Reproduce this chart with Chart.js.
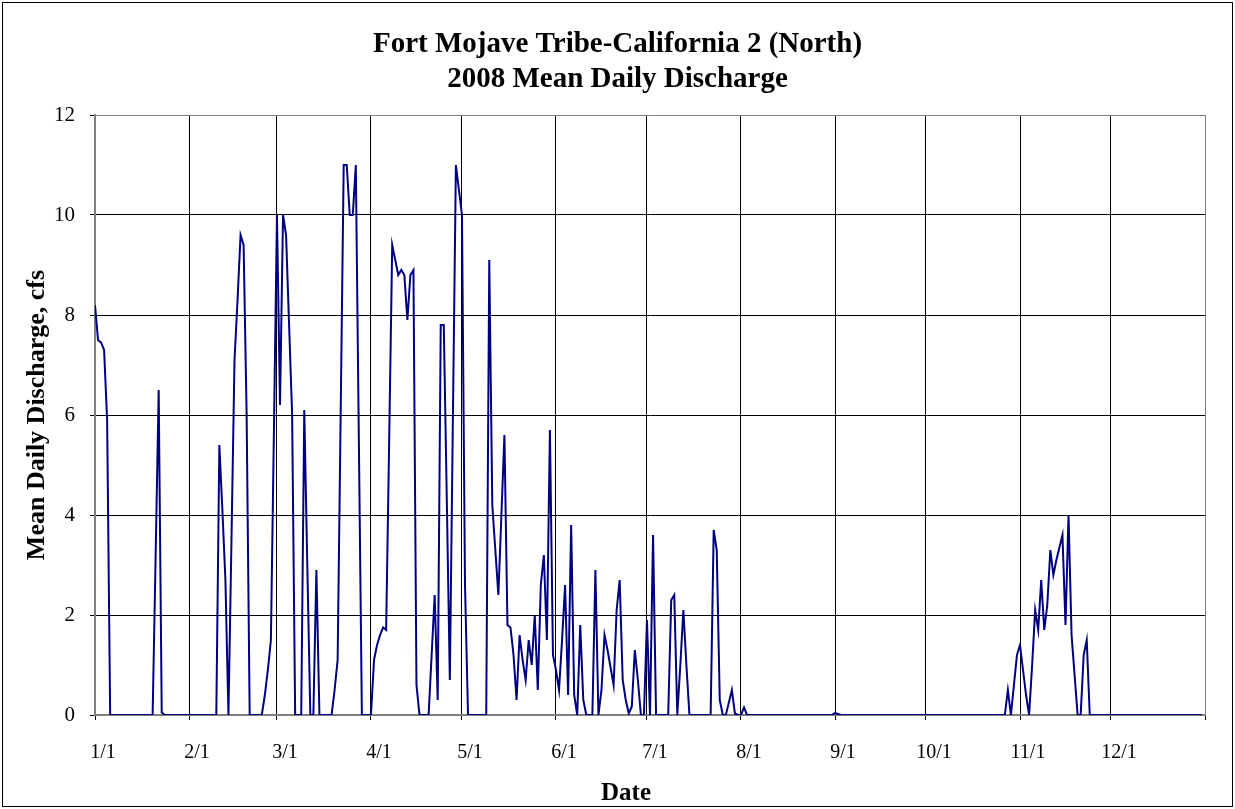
<!DOCTYPE html>
<html>
<head>
<meta charset="utf-8">
<title>Fort Mojave Tribe-California 2 (North) - 2008 Mean Daily Discharge</title>
<script src="https://cdn.jsdelivr.net/npm/chart.js@4.4.1/dist/chart.umd.min.js"></script>
<style>
  html, body { margin: 0; padding: 0; background: #fff; }
  #wrap { width: 1235px; height: 809px; }
</style>
</head>
<body>
<div id="wrap"><canvas id="flow-chart" width="1235" height="809"></canvas></div>
<script>
// Mean daily discharge (cfs) for 2008, one array per month
const flowJan = [8.2, 7.5, 7.45, 7.3, 5.9, 0, 0, 0, 0, 0,
                 0, 0, 0, 0, 0, 0, 0, 0, 0, 0,
                 3.2, 6.5, 0.05, 0, 0, 0, 0, 0, 0, 0,
                 0];
const flowFeb = [0, 0, 0, 0, 0, 0, 0, 0, 0, 0,
                 5.4, 4.1, 2.7, 0, 3.5, 7.1, 8.3, 9.6, 9.4, 6.0,
                 0, 0, 0, 0, 0, 0.4, 0.9, 1.5, 5.7];
const flowMar = [10, 6.2, 10, 9.6, 7.8, 6.0, 0, 0, 0, 6.1,
                 3.0, 0, 0, 2.9, 0, 0, 0, 0, 0, 0.5,
                 1.1, 6.0, 11, 11, 10, 10, 11, 5.5, 0, 0,
                 0];
const flowApr = [0, 1.1, 1.4, 1.6, 1.75, 1.7, 5.5, 9.4, 9.1, 8.8,
                 8.9, 8.8, 7.9, 8.8, 8.9, 0.6, 0, 0, 0, 0,
                 1.2, 2.4, 0.3, 7.8, 7.8, 4.3, 0.7, 5.9, 11, 10.5];
const flowMay = [10, 2.6, 0, 0, 0, 0, 0, 0, 0, 9.1,
                 4.2, 3.3, 2.4, 4.0, 5.6, 1.8, 1.75, 1.2, 0.3, 1.6,
                 1.1, 0.7, 1.5, 1.0, 2.0, 0.5, 2.6, 3.2, 1.5, 5.7,
                 1.2];
const flowJun = [0.9, 0.5, 1.5, 2.6, 0.4, 3.8, 0.4, 0, 1.8, 0.3,
                 0, 0, 0, 2.9, 0, 0.5, 1.6, 1.3, 0.95, 0.6,
                 2.1, 2.7, 0.7, 0.3, 0.03, 0.17, 1.3, 0.7, 0, 0];
const flowJul = [1.9, 0, 3.6, 0, 0, 0, 0, 0, 2.3, 2.4,
                 0, 1.0, 2.1, 1.0, 0, 0, 0, 0, 0, 0,
                 0, 0, 3.7, 3.3, 0.3, 0, 0, 0.25, 0.5, 0.03,
                 0];
const flowAug = [0, 0.15, 0, 0, 0, 0, 0, 0, 0, 0,
                 0, 0, 0, 0, 0, 0, 0, 0, 0, 0,
                 0, 0, 0, 0, 0, 0, 0, 0, 0, 0,
                 0];
const flowSep = [0.04, 0.02, 0, 0, 0, 0, 0, 0, 0, 0,
                 0, 0, 0, 0, 0, 0, 0, 0, 0, 0,
                 0, 0, 0, 0, 0, 0, 0, 0, 0, 0];
const flowOct = [0, 0, 0, 0, 0, 0, 0, 0, 0, 0,
                 0, 0, 0, 0, 0, 0, 0, 0, 0, 0,
                 0, 0, 0, 0, 0, 0, 0, 0.5, 0, 0.6,
                 1.2];
const flowNov = [1.4, 0.9, 0.4, 0, 1.0, 2.1, 1.7, 2.7, 1.7, 2.2,
                 3.3, 2.8, 3.1, 3.35, 3.6, 1.8, 4.0, 1.6, 0.8, 0,
                 0, 1.2, 1.5, 0, 0, 0, 0, 0, 0, 0];
const flowDec = [0, 0, 0, 0, 0, 0, 0, 0, 0, 0,
                 0, 0, 0, 0, 0, 0, 0, 0, 0, 0,
                 0, 0, 0, 0, 0, 0, 0, 0, 0, 0,
                 0];

// Axis ticks: day of year where each month starts, and its label
const monthStarts = [0, 31, 60, 91, 121, 152, 182, 213, 244, 274, 305, 335];
const monthLabels = ['1/1', '2/1', '3/1', '4/1', '5/1', '6/1', '7/1', '8/1', '9/1', '10/1', '11/1', '12/1'];
const yearEnd = 366;
const yTicks = [0, 2, 4, 6, 8, 10, 12];
const titleLines = ['Fort Mojave Tribe-California 2 (North)', '2008 Mean Daily Discharge'];
const xTitle = 'Date';

// Join the months into one daily series, x = day of year
const dailyFlow = [].concat(flowJan, flowFeb, flowMar, flowApr, flowMay, flowJun,
                            flowJul, flowAug, flowSep, flowOct, flowNov, flowDec);
const points = dailyFlow.map((v, i) => ({ x: i, y: v }));

const serif = "'Liberation Serif', 'Times New Roman', serif";
Chart.defaults.font.family = serif;
Chart.defaults.color = '#000';

// Frame around the whole picture, the two-line title and the x axis title
const framePlugin = {
    id: 'frame',
    afterDraw(chart) {
        const ctx = chart.ctx;
        ctx.save();
        ctx.strokeStyle = '#000';
        ctx.lineWidth = 1;
        ctx.strokeRect(2.5, 2.5, chart.width - 5, chart.height - 5);

        ctx.fillStyle = '#000';
        ctx.textAlign = 'center';
        ctx.textBaseline = 'middle';
        ctx.font = 'bold 29px ' + serif;
        ctx.fillText(titleLines[0], chart.width / 2, 45);
        ctx.fillText(titleLines[1], chart.width / 2, 80);

        ctx.font = 'bold 25px ' + serif;
        ctx.fillText(xTitle, 626, 794);
        ctx.restore();
    }
};

const ctx = document.getElementById('flow-chart').getContext('2d');
new Chart(ctx, {
    type: 'line',
    data: {
        datasets: [{
            label: 'Mean Daily Discharge',
            data: points,
            borderColor: '#000080',
            borderWidth: 2,
            pointRadius: 0,
            tension: 0,
            fill: false
        }]
    },
    options: {
        responsive: false,
        animation: false,
        devicePixelRatio: 1,
        layout: { padding: { left: 4, right: 30, top: 115, bottom: 4 } },
        plugins: {
            legend: { display: false },
            tooltip: { enabled: false },
            title: { display: false }
        },
        scales: {
            x: {
                type: 'linear',
                min: 0,
                max: yearEnd,
                afterFit: (scale) => { scale.height = 90; },
                afterBuildTicks: (scale) => {
                    scale.ticks = monthStarts.concat([yearEnd]).map(v => ({ value: v }));
                },
                ticks: {
                    autoSkip: false,
                    maxRotation: 0,
                    padding: 21,
                    labelOffset: 8,
                    font: { size: 20 },
                    callback: (value) => {
                        const i = monthStarts.indexOf(value);
                        return i >= 0 ? monthLabels[i] : '';
                    }
                },
                grid: {
                    color: (c) => (c.tick && c.tick.value === yearEnd ? '#808080' : '#000'),
                    tickColor: '#000',
                    tickLength: 5
                },
                border: { color: '#808080', width: 2 },
                title: { display: false }
            },
            y: {
                min: 0,
                max: 12,
                afterFit: (scale) => { scale.width = 91; },
                afterBuildTicks: (scale) => {
                    scale.ticks = yTicks.map(v => ({ value: v }));
                },
                ticks: {
                    padding: 15,
                    font: { size: 21 }
                },
                grid: {
                    color: (c) => (c.tick && c.tick.value === 12 ? '#808080' : '#000'),
                    tickColor: '#000',
                    tickLength: 5
                },
                border: { color: '#808080', width: 2 },
                title: {
                    display: true,
                    text: 'Mean Daily Discharge, cfs',
                    font: { size: 26, weight: 'bold' },
                    padding: { top: 18, bottom: 0 }
                }
            }
        }
    },
    plugins: [framePlugin]
});
</script>
</body>
</html>
